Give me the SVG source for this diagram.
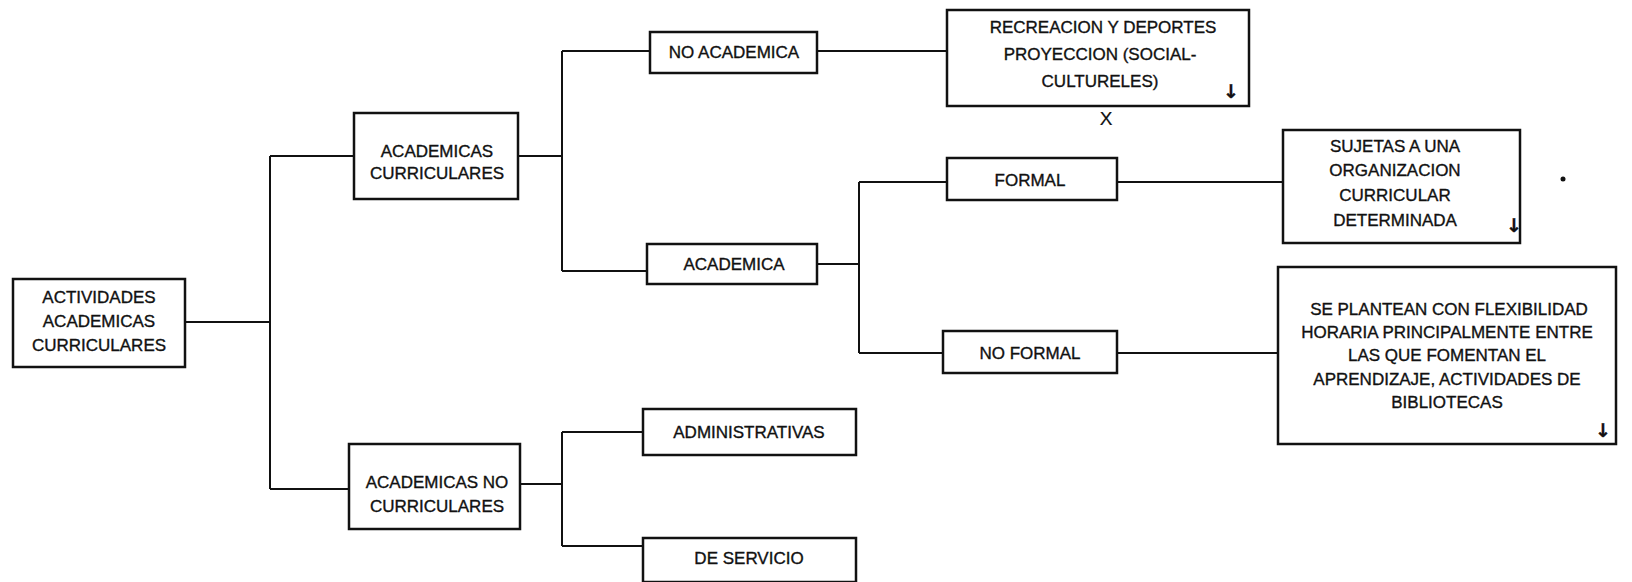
<svg xmlns="http://www.w3.org/2000/svg" width="1632" height="582" viewBox="0 0 1632 582">
<style>
.box{fill:#fff;stroke:#111;stroke-width:2.5}
.c{fill:none;stroke:#111;stroke-width:2}
text{font-family:"Liberation Sans",Arial,sans-serif;font-size:17px;fill:#111;stroke:#111;stroke-width:0.35;text-anchor:middle}
.ar{font-family:"DejaVu Sans",sans-serif;font-size:19px;font-weight:bold}
</style>
<rect width="1632" height="582" fill="#fff"/>
<g id="connectors">
<path class="c" d="M185 322H270M270 156V489M270 156H354M270 489H349"/>
<path class="c" d="M518 156H562M562 51V271M562 51H650M562 271H647"/>
<path class="c" d="M817 51H947"/>
<path class="c" d="M817 264H859M859 182V353M859 182H947M859 353H943"/>
<path class="c" d="M1117 182H1283M1117 353H1278"/>
<path class="c" d="M520 484H562M562 432V546M562 432H643M562 546H643"/>
</g>
<g id="n-root"><rect class="box" x="13" y="279" width="172" height="88"/>
<text x="99" y="303">ACTIVIDADES</text><text x="99" y="327">ACADEMICAS</text><text x="99" y="351">CURRICULARES</text></g>
<g id="n-ac"><rect class="box" x="354" y="113" width="164" height="86"/>
<text x="437" y="157">ACADEMICAS</text><text x="437" y="179">CURRICULARES</text></g>
<g id="n-noacad"><rect class="box" x="650" y="32" width="167" height="41"/>
<text x="734" y="58">NO ACADEMICA</text></g>
<g id="n-acad"><rect class="box" x="647" y="244" width="170" height="40"/>
<text x="734" y="270">ACADEMICA</text></g>
<g id="n-recre"><rect class="box" x="947" y="10" width="302" height="96"/>
<text x="1103" y="33">RECREACION Y DEPORTES</text><text x="1100" y="60">PROYECCION (SOCIAL-</text><text x="1100" y="87">CULTURELES)</text>
<text class="ar" x="1231" y="98">↓</text></g>
<text x="1106" y="125" style="font-size:19px;stroke-width:0.2">X</text>
<g id="n-formal"><rect class="box" x="947" y="158" width="170" height="42"/>
<text x="1030" y="186">FORMAL</text></g>
<g id="n-noformal"><rect class="box" x="943" y="331" width="174" height="42"/>
<text x="1030" y="359">NO FORMAL</text></g>
<g id="n-sujetas"><rect class="box" x="1283" y="130" width="237" height="113"/>
<text x="1395" y="152">SUJETAS A UNA</text><text x="1395" y="176">ORGANIZACION</text><text x="1395" y="201">CURRICULAR</text><text x="1395" y="226">DETERMINADA</text>
<text class="ar" x="1514" y="232">↓</text></g>
<circle cx="1563" cy="179" r="2.5" fill="#111"/>
<g id="n-seplantean"><rect class="box" x="1278" y="267" width="338" height="177"/>
<text x="1449" y="315">SE PLANTEAN CON FLEXIBILIDAD</text><text x="1447" y="338">HORARIA PRINCIPALMENTE ENTRE</text><text x="1447" y="361">LAS QUE FOMENTAN EL</text><text x="1447" y="385">APRENDIZAJE, ACTIVIDADES DE</text><text x="1447" y="408">BIBLIOTECAS</text>
<text class="ar" x="1603" y="437">↓</text></g>
<g id="n-acnc"><rect class="box" x="349" y="444" width="171" height="85"/>
<text x="437" y="488">ACADEMICAS NO</text><text x="437" y="512">CURRICULARES</text></g>
<g id="n-admin"><rect class="box" x="643" y="409" width="213" height="46"/>
<text x="749" y="438">ADMINISTRATIVAS</text></g>
<g id="n-servicio"><rect class="box" x="643" y="538" width="213" height="44"/>
<text x="749" y="564">DE SERVICIO</text></g>
</svg>
